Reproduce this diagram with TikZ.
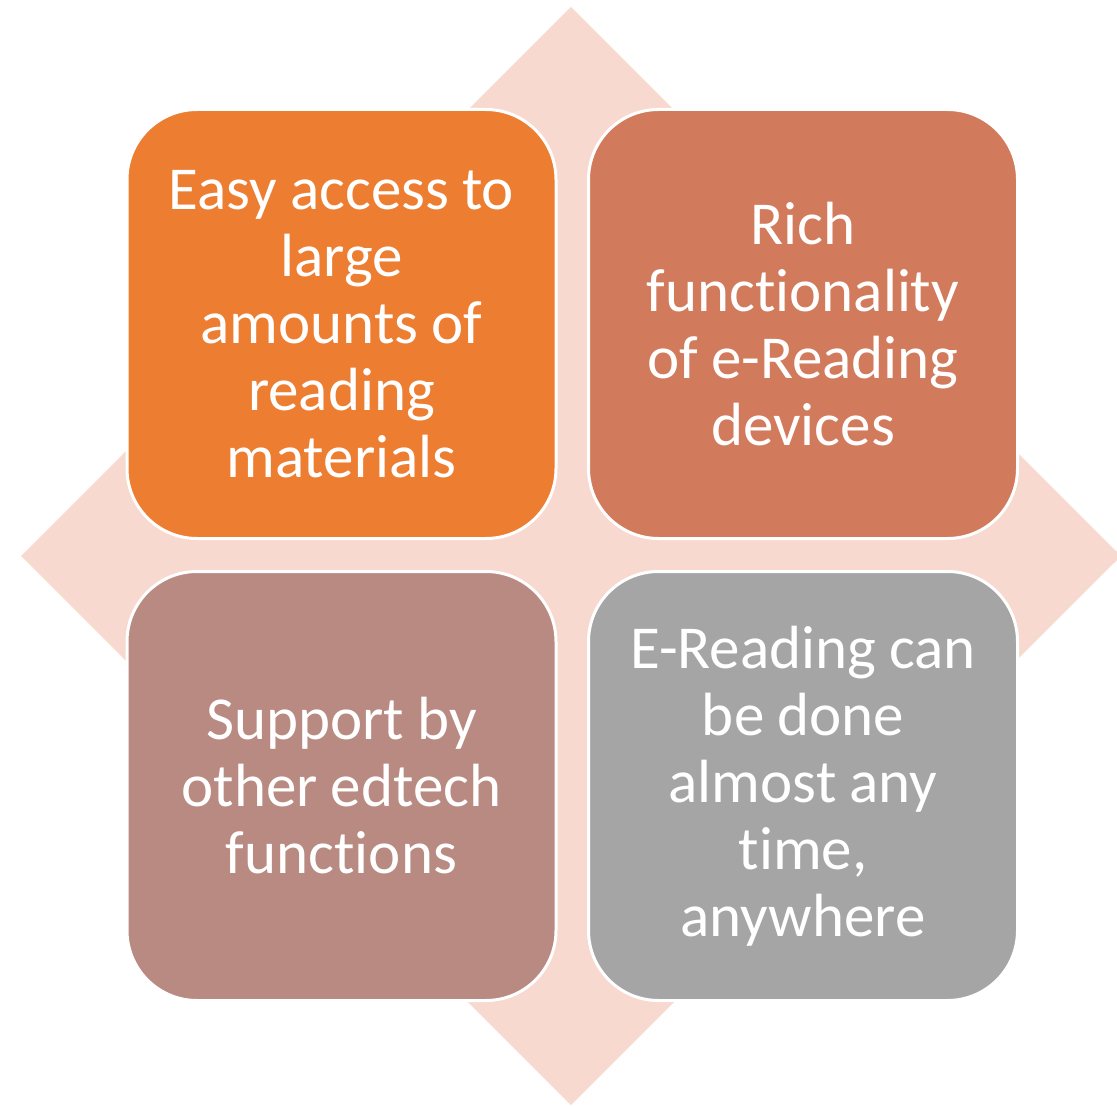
\documentclass[tikz,border=0pt]{standalone}
\usepackage{fontspec}
\setmainfont{Carlito}[Ligatures={NoCommon}]
\definecolor{diam}{HTML}{F7D9CF}
\definecolor{cA}{HTML}{ED7D31}
\definecolor{cB}{HTML}{D17A5C}
\definecolor{cC}{HTML}{B98A82}
\definecolor{cD}{HTML}{A5A5A5}
\begin{document}
\begin{tikzpicture}[x=1pt,y=-1pt,
  quad/.style={draw=white, line width=3pt, rounded corners=70pt,
    minimum width=429pt, minimum height=429pt, inner sep=0pt,
    text=white, align=flush center, text width=420pt,
    font=\fontsize{61pt}{67pt}\selectfont,
    execute at begin node={\spaceskip=13pt plus 2pt minus 2pt\relax}}]
\useasboundingbox (0,0) rectangle (1117,1107);
\fill[diam] (571,7) -- (1121,556) -- (571,1105) -- (21,556) -- cycle;
\node[quad, fill=cA] (tl) at (341.5,324) {Easy access to\\large\\amounts of\\reading\\materials};
\node[quad, fill=cB] (tr) at (803,324) {Rich\\functionality\\of e-Reading\\devices};
\node[quad, fill=cC] (bl) at (341.5,786) {Support by\\other edtech\\functions};
\node[quad, fill=cD] (br) at (803,786) {E-Reading can\\be done\\almost any\\time,\\anywhere};
\end{tikzpicture}
\end{document}
